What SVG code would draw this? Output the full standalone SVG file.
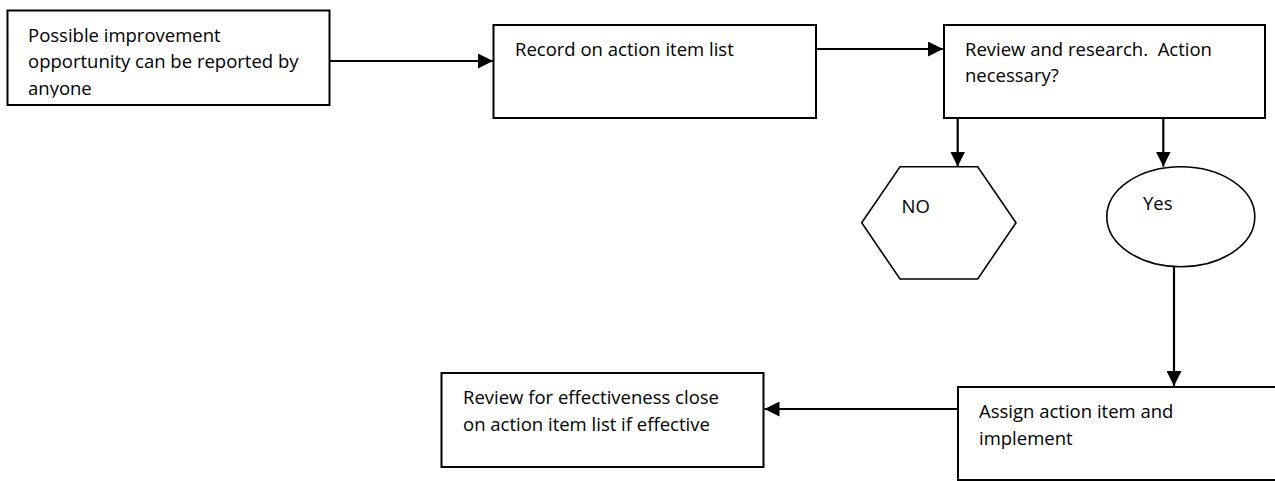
<svg xmlns="http://www.w3.org/2000/svg" width="1275" height="481" viewBox="0 0 1275 481">
<style>
.box{fill:#fff;stroke:#000;stroke-width:2}
.shape{fill:#fff;stroke:#000;stroke-width:1.6}
.lbl{font-family:"Open Sans","Noto Sans","Liberation Sans",sans-serif;font-size:18.5px;fill:#000;white-space:pre}
.conn{stroke:#000;stroke-width:2.2;fill:none;marker-end:url(#arr)}
</style>
<defs>
<marker id="arr" markerUnits="userSpaceOnUse" markerWidth="16" markerHeight="15" refX="15" refY="7.5" orient="auto">
<path d="M0,0 L15,7.5 L0,15 Z" fill="#000"/>
</marker>
<clipPath id="c1"><rect x="8.5" y="11.5" width="320" height="86"/></clipPath>
</defs>
<rect width="1275" height="481" fill="#fff"/>
<g id="n1">
<rect class="box" x="7.5" y="10.5" width="322" height="94.5"/>
<g clip-path="url(#c1)">
<text class="lbl" x="28" y="41.5">Possible improvement</text>
<text class="lbl" x="28" y="68">opportunity can be reported by</text>
<text class="lbl" x="28" y="94.5">anyone</text>
</g>
</g>
<g id="n2">
<rect class="box" x="493.5" y="25" width="322.5" height="93"/>
<text class="lbl" x="515" y="56">Record on action item list</text>
</g>
<g id="n3">
<rect class="box" x="944" y="25" width="321" height="93"/>
<text class="lbl" x="965" y="55.5" xml:space="preserve">Review and research.  Action</text>
<text class="lbl" x="965" y="81.5">necessary?</text>
</g>
<g id="n4">
<polygon class="shape" points="900,166.7 977.7,166.7 1016,222.7 977.7,279 900,279 861.7,222.7"/>
<text class="lbl" x="901.5" y="213">NO</text>
</g>
<g id="n5">
<ellipse class="shape" cx="1180.8" cy="216.7" rx="74" ry="50"/>
<text class="lbl" x="1143" y="210">Yes</text>
</g>
<g id="n6">
<rect class="box" x="958" y="387" width="330" height="93"/>
<text class="lbl" x="979" y="418">Assign action item and</text>
<text class="lbl" x="979" y="444.5">implement</text>
</g>
<g id="n7">
<rect class="box" x="441.5" y="373" width="322" height="94"/>
<text class="lbl" x="463" y="404">Review for effectiveness close</text>
<text class="lbl" x="463" y="430.5">on action item list if effective</text>
</g>
<g id="connectors">
<line class="conn" x1="330" y1="61" x2="493" y2="61"/>
<line class="conn" x1="816" y1="49" x2="943" y2="49"/>
<line class="conn" x1="957.7" y1="118" x2="957.7" y2="166.5"/>
<line class="conn" x1="1163.3" y1="118" x2="1163.3" y2="166.5"/>
<line class="conn" x1="1174" y1="266.7" x2="1174" y2="386"/>
<line class="conn" x1="957" y1="409" x2="764.5" y2="409"/>
</g>
</svg>
